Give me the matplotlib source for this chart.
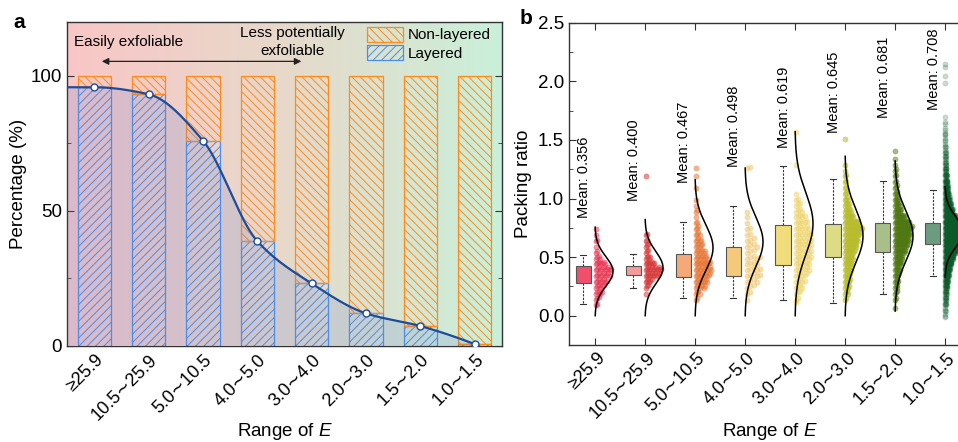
import numpy as np
import matplotlib.pyplot as plt
import matplotlib.transforms as mtransforms
from matplotlib.colors import LinearSegmentedColormap
from matplotlib.patches import Patch

plt.rcParams['font.family'] = ['Liberation Sans', 'DejaVu Sans']
plt.rcParams['mathtext.fontset'] = 'custom'
plt.rcParams['mathtext.rm'] = 'Liberation Sans'
plt.rcParams['mathtext.it'] = 'Liberation Sans:italic'
plt.rcParams['hatch.linewidth'] = 0.7

# ---- data ----
categories = ['≥25.9', '10.5∼25.9', '5.0∼10.5', '4.0∼5.0',
              '3.0∼4.0', '2.0∼3.0', '1.5∼2.0', '1.0∼1.5']

# panel a: percentage of layered materials per E range
layered = [95.8, 93.2, 76.0, 38.7, 23.0, 11.9, 7.2, 0.5]
non_layered = [100 - v for v in layered]

# panel b: box statistics of packing ratio
box_q1 = [0.28, 0.35, 0.33, 0.34, 0.43, 0.50, 0.545, 0.615]
box_med = [0.37, 0.39, 0.41, 0.44, 0.57, 0.69, 0.71, 0.73]
box_q3 = [0.42, 0.425, 0.525, 0.59, 0.77, 0.78, 0.79, 0.795]
box_wlo = [0.10, 0.24, 0.15, 0.15, 0.13, 0.11, 0.185, 0.34]
box_whi = [0.515, 0.53, 0.80, 0.94, 1.28, 1.17, 1.15, 1.07]
mean_vals = [0.356, 0.400, 0.467, 0.498, 0.619, 0.645, 0.681, 0.708]

# range covered by the fitted normal curve of each group
curve_lo = [0.0, 0.0, 0.0, 0.0, 0.0, 0.0, 0.04, 0.33]
curve_hi = [0.755, 0.82, 1.16, 1.26, 1.57, 1.36, 1.32, 1.10]

# approximate number of points per packing-ratio level (read from the swarm)
counts_1 = {0.10: 2, 0.15: 3, 0.20: 5, 0.25: 6, 0.30: 8, 0.35: 10, 0.40: 11,
            0.45: 7, 0.50: 4, 0.55: 2, 0.60: 1, 0.65: 2, 0.70: 1, 0.75: 1}
counts_2 = {0.20: 1, 0.25: 3, 0.30: 6, 0.35: 12, 0.40: 14, 0.45: 8, 0.50: 5,
            0.55: 3, 0.60: 3, 0.65: 2, 0.70: 2, 1.20: 1}
counts_3 = {0.15: 2, 0.20: 4, 0.25: 8, 0.30: 10, 0.35: 12, 0.40: 13, 0.45: 12,
            0.50: 10, 0.55: 8, 0.60: 6, 0.65: 5, 0.70: 4, 0.75: 3, 0.80: 2,
            0.85: 1, 0.90: 2, 0.95: 1, 1.00: 1, 1.10: 1, 1.20: 1, 1.27: 1}
counts_4 = {0.15: 1, 0.20: 2, 0.25: 3, 0.30: 4, 0.35: 5, 0.40: 5, 0.45: 4,
            0.50: 5, 0.55: 3, 0.60: 4, 0.65: 3, 0.70: 2, 0.75: 2, 0.80: 1,
            0.85: 1, 0.90: 1, 1.27: 2}
counts_5 = {0.13: 1, 0.15: 2, 0.20: 3, 0.25: 4, 0.30: 5, 0.35: 6, 0.40: 7,
            0.45: 7, 0.50: 8, 0.55: 8, 0.60: 8, 0.65: 8, 0.70: 8, 0.75: 7,
            0.80: 6, 0.85: 5, 0.90: 4, 0.95: 3, 1.00: 2, 1.05: 1, 1.30: 1,
            1.58: 1}
counts_6 = {0.15: 2, 0.20: 4, 0.25: 5, 0.30: 6, 0.35: 6, 0.40: 7, 0.45: 8,
            0.50: 10, 0.55: 12, 0.60: 14, 0.65: 16, 0.70: 18, 0.75: 20,
            0.80: 16, 0.85: 10, 0.90: 7, 0.95: 5, 1.00: 4, 1.05: 3, 1.10: 2,
            1.15: 2, 1.20: 2, 1.25: 1, 1.30: 1, 1.52: 1}
counts_7 = {0.08: 1, 0.15: 2, 0.20: 3, 0.25: 4, 0.30: 5, 0.35: 6, 0.40: 7,
            0.45: 9, 0.50: 11, 0.55: 15, 0.60: 18, 0.65: 20, 0.70: 22,
            0.75: 24, 0.80: 20, 0.85: 14, 0.90: 9, 0.95: 7, 1.00: 5, 1.05: 4,
            1.10: 3, 1.15: 2, 1.20: 2, 1.25: 2, 1.30: 1, 1.35: 1, 1.42: 1}
counts_8 = {0.00: 3, 0.05: 4, 0.10: 6, 0.15: 8, 0.20: 10, 0.25: 14, 0.30: 18,
            0.35: 24, 0.40: 30, 0.45: 38, 0.50: 50, 0.55: 65, 0.60: 80,
            0.65: 95, 0.70: 100, 0.75: 95, 0.80: 80, 0.85: 60, 0.90: 45,
            0.95: 35, 1.00: 28, 1.05: 22, 1.10: 18, 1.15: 14, 1.20: 11,
            1.25: 9, 1.30: 7, 1.35: 6, 1.40: 5, 1.45: 4, 1.50: 3, 1.55: 3,
            1.60: 2, 1.65: 2, 1.71: 1, 2.00: 1, 2.06: 1, 2.13: 1, 2.16: 1}
group_counts = [counts_1, counts_2, counts_3, counts_4,
                counts_5, counts_6, counts_7, counts_8]

# ---- styles ----
orange = '#ff8a1c'
blue = '#4d8fe6'
line_blue = '#1d4c9c'
box_colors = ['#f0506c', '#f59c9a', '#f5a878', '#f5c97c',
              '#f1dc7c', '#dcdc84', '#a8bf8a', '#6b9c7f']
pt_colors = ['#e8304f', '#d83a3a', '#e8783a', '#f0c66c',
             '#eed46a', '#b8bc2c', '#4f7812', '#0b5a2a']
pt_alpha = [0.5, 0.55, 0.55, 0.55, 0.55, 0.55, 0.5, 0.22]
label_y = [0.835, 0.975, 1.13, 1.27, 1.43, 1.56, 1.685, 1.755]
spine_col = '#333333'


def pchip(x, y, xs):
    x = np.asarray(x, float)
    y = np.asarray(y, float)
    h = np.diff(x)
    d = np.diff(y) / h
    m = np.zeros_like(y)
    for i in range(1, len(x) - 1):
        if d[i - 1] * d[i] > 0:
            w1 = 2 * h[i] + h[i - 1]
            w2 = h[i] + 2 * h[i - 1]
            m[i] = (w1 + w2) / (w1 / d[i - 1] + w2 / d[i])
    m[0] = ((2 * h[0] + h[1]) * d[0] - h[0] * d[1]) / (h[0] + h[1])
    if np.sign(m[0]) != np.sign(d[0]):
        m[0] = 0
    m[-1] = ((2 * h[-1] + h[-2]) * d[-1] - h[-1] * d[-2]) / (h[-1] + h[-2])
    if np.sign(m[-1]) != np.sign(d[-1]):
        m[-1] = 0
    idx = np.clip(np.searchsorted(x, xs) - 1, 0, len(x) - 2)
    t = (xs - x[idx]) / h[idx]
    h00 = 2 * t**3 - 3 * t**2 + 1
    h10 = t**3 - 2 * t**2 + t
    h01 = -2 * t**3 + 3 * t**2
    h11 = t**3 - t**2
    return (h00 * y[idx] + h10 * h[idx] * m[idx]
            + h01 * y[idx + 1] + h11 * h[idx] * m[idx + 1])


def shift_labels(axis, dx_pt):
    off = mtransforms.ScaledTranslation(dx_pt / 72, 0, fig.dpi_scale_trans)
    for lab in axis.get_xticklabels():
        lab.set_transform(lab.get_transform() + off)


fig = plt.figure(figsize=(9.58, 4.42), dpi=100)

# ================= panel a =================
ax = fig.add_axes([67 / 958, 1 - 345.5 / 442, 435 / 958, 323.5 / 442])
pos = np.arange(1, len(categories) + 1)

bg = LinearSegmentedColormap.from_list('bg', ['#f9c6c6', '#e7d9ca', '#c9f0d9'])
ax.imshow(np.linspace(0, 1, 256).reshape(1, -1), extent=(0.5, 8.5, 0, 120),
          aspect='auto', cmap=bg, zorder=0)

ax.bar(pos, layered, width=0.61, facecolor='none', edgecolor=blue,
       hatch='////', linewidth=0.9, zorder=2)
ax.bar(pos, non_layered, bottom=layered, width=0.61, facecolor='none',
       edgecolor=orange, hatch='\\\\\\\\', linewidth=0.9, zorder=2)

xs = np.linspace(0.5, pos[-1], 400)
ys = pchip(np.r_[0.5, pos], np.r_[layered[0], layered], xs)
ax.fill_between(xs, 0, ys, color='#5c80d8', alpha=0.18, lw=0, zorder=3)
ax.plot(xs, ys, color=line_blue, lw=1.6, zorder=4)
ax.plot(pos, layered, 'o', ms=5, mfc='white', mec=line_blue, mew=1.0, zorder=5)

ax.annotate('', xy=(1.14, 105.4), xytext=(4.81, 105.4),
            arrowprops=dict(arrowstyle='<|-|>', color='#222222', lw=0.9,
                            mutation_scale=10, shrinkA=0, shrinkB=0))
ax.text(0.63, 112.6, 'Easily exfoliable', fontsize=11, va='center', ha='left')
ax.text(4.64, 112.7, 'Less potentially\nexfoliable', fontsize=11, va='center',
        ha='center', multialignment='center', linespacing=1.35)

handles = [Patch(facecolor='none', edgecolor=orange, hatch='\\\\\\\\', lw=0.9),
           Patch(facecolor='none', edgecolor=blue, hatch='////', lw=0.9)]
ax.legend(handles, ['Non-layered', 'Layered'], loc='upper left',
          bbox_to_anchor=(0.689, 0.985), frameon=False, fontsize=11,
          handlelength=2.35, handleheight=1.1, handletextpad=0.35,
          labelspacing=0.2, borderpad=0, borderaxespad=0)

ax.set_xlim(0.5, 8.5)
ax.set_ylim(0, 120)
ax.set_yticks([0, 50, 100])
ax.set_yticks([25, 75], minor=True)
ax.set_xticks(pos)
ax.set_xticklabels(categories, rotation=45, ha='right', va='center',
                   rotation_mode='anchor', fontsize=13)
ax.tick_params(axis='x', length=0, pad=8.5)
ax.tick_params(axis='y', which='both', direction='in', left=True, right=True,
               labelsize=13.5, color=spine_col)
ax.tick_params(axis='y', which='major', length=5)
ax.tick_params(axis='y', which='minor', length=3)
ax.set_ylabel('Percentage (%)', fontsize=13.5, labelpad=3)
ax.set_xlabel('Range of $E$', fontsize=13.5)
ax.xaxis.set_label_coords(0.5, -0.232)
for s in ax.spines.values():
    s.set_color(spine_col)
    s.set_linewidth(1.0)
shift_labels(ax, 4.5)

# ================= panel b =================
bx = fig.add_axes([569 / 958, 1 - 345 / 442, 401 / 958, 322.3 / 442])

for i, counts in enumerate(group_counts):
    peak = max(counts.values())
    dx = 0.34 / peak
    px, py = [], []
    for lvl, n in counts.items():
        for k in range(n):
            px.append(pos[i] + (k + 0.5) * dx)
            py.append(lvl + ((k % 3) - 1) * 0.012)
    bx.scatter(px, py, s=14, color=pt_colors[i], alpha=pt_alpha[i],
               edgecolors=pt_colors[i], linewidths=0.4, zorder=2)

stats = [dict(q1=box_q1[i], med=box_med[i], q3=box_q3[i],
              whislo=box_wlo[i], whishi=box_whi[i], fliers=[])
         for i in range(len(categories))]
bp = bx.bxp(stats, positions=pos - 0.24, widths=0.3, patch_artist=True,
            showfliers=False, capwidths=0.12, manage_ticks=False,
            boxprops=dict(edgecolor='#555555', linewidth=0.8),
            medianprops=dict(color='#333333', linewidth=1.1),
            whiskerprops=dict(color='#333333', linewidth=0.8,
                              linestyle=(0, (2, 1.2))),
            capprops=dict(color='#333333', linewidth=0.8))
for patch, c in zip(bp['boxes'], box_colors):
    patch.set_facecolor(c)
    patch.set_zorder(3)

for i in range(len(categories)):
    yy = np.linspace(curve_lo[i], curve_hi[i], 200)
    mu = (curve_lo[i] + curve_hi[i]) / 2
    sig = (curve_hi[i] - curve_lo[i]) / 6
    bx.plot(pos[i] + 0.36 * np.exp(-(yy - mu) ** 2 / (2 * sig ** 2)), yy,
            color='black', lw=1.1, zorder=4)
    bx.text(pos[i] - 0.21, label_y[i], f'Mean: {mean_vals[i]:.3f}',
            rotation=90, ha='center', va='bottom', fontsize=10.5)

bx.set_xlim(0.48, 8.5)
bx.set_ylim(-0.25, 2.5)
bx.set_yticks(np.arange(0, 2.51, 0.5))
bx.set_yticks(np.arange(0.25, 2.5, 0.5), minor=True)
bx.yaxis.set_major_formatter(plt.FormatStrFormatter('%.1f'))
bx.set_xticks(pos)
bx.set_xticklabels(categories, rotation=45, ha='right', va='center',
                   rotation_mode='anchor', fontsize=13)
bx.tick_params(axis='x', direction='in', top=True, length=5, pad=7.5,
               color=spine_col)
bx.tick_params(axis='y', which='both', direction='in', labelsize=13.5,
               color=spine_col)
bx.tick_params(axis='y', which='major', length=5)
bx.tick_params(axis='y', which='minor', length=3)
bx.set_ylabel('Packing ratio', fontsize=13.5, labelpad=4)
bx.set_xlabel('Range of $E$', fontsize=13.5)
bx.xaxis.set_label_coords(0.5, -0.235)
for s in bx.spines.values():
    s.set_color(spine_col)
    s.set_linewidth(1.0)
shift_labels(bx, 5.5)

fig.text(19 / 958, 1 - 22 / 442, 'a', fontsize=15, fontweight='bold',
         ha='center', va='center')
fig.text(526 / 958, 1 - 18 / 442, 'b', fontsize=15, fontweight='bold',
         ha='center', va='center')

fig.savefig('out.png', dpi=100)
